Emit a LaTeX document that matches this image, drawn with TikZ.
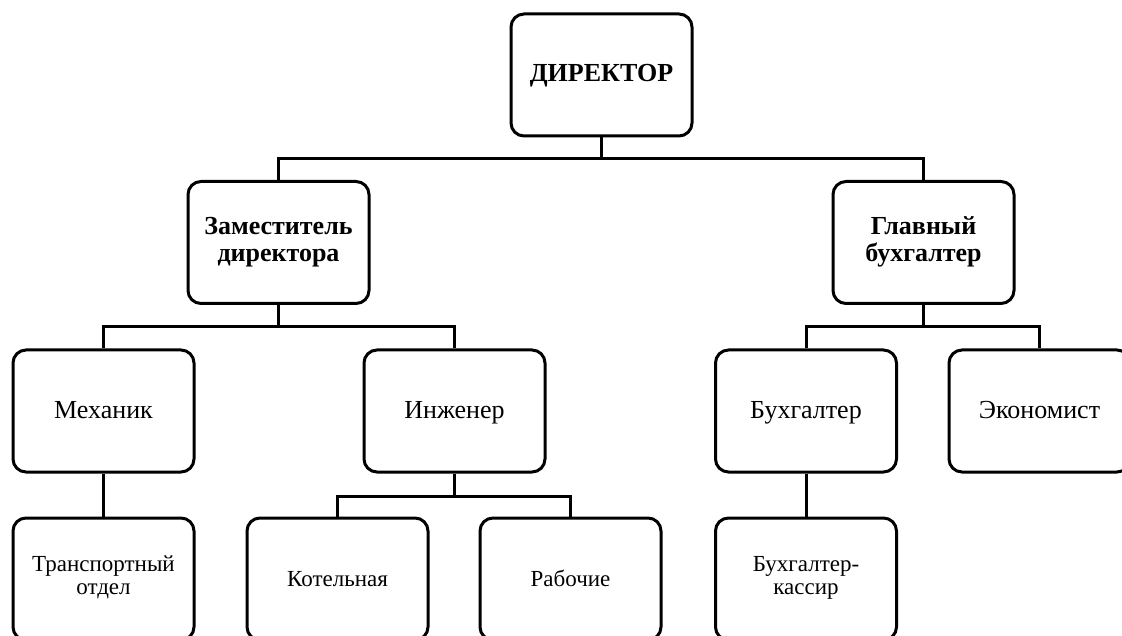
\documentclass[tikz,border=0pt]{standalone}
\usepackage{fontspec}
\setmainfont{Liberation Serif}
\newcommand\lnstrut{\rule[-7pt]{0pt}{28pt}}
\newcommand\tightls{\lineskiplimit=-50pt\relax}
\begin{document}
\begin{tikzpicture}[x=1pt,y=-1pt,
  box/.style={draw=black, line width=3pt, rounded corners=13pt, fill=white,
    minimum width=181pt, minimum height=122pt, align=center, inner sep=0pt,
    execute at begin node=\lnstrut,
    font=\fontsize{26}{25}\selectfont\tightls},
  bbox/.style={box, font=\fontsize{26}{27}\selectfont\tightls\bfseries},
  sbox/.style={box, font=\fontsize{23}{23}\selectfont\tightls},
  conn/.style={draw=black, line width=3pt}]
\useasboundingbox (0,0) rectangle (1122,636);
\clip (0,0) rectangle (1122,636);
\fill[white] (0,0) rectangle (1122,636);
% levels
\node[bbox] (dir) at (601.5,75) {ДИРЕКТОР};
\node[bbox] (zam) at (278.5,242.5) {Заместитель\\\lnstrut директора};
\node[bbox] (glav) at (923.5,242.5) {Главный\\\lnstrut бухгалтер};
\node[box] (mech) at (103.5,411) {Механик};
\node[box] (eng) at (454.5,411) {Инженер};
\node[box] (buh) at (806,411) {Бухгалтер};
\node[box] (econ) at (1039.5,411) {Экономист};
\node[sbox] (trans) at (103.5,579) {Транспортный\\\lnstrut отдел};
\node[sbox] (kot) at (337.5,579) {Котельная};
\node[sbox] (rab) at (570.5,579) {Рабочие};
\node[sbox] (kas) at (806,579) {Бухгалтер-\\\lnstrut кассир};
% bus coordinates
\coordinate (b1) at (0,159);
\coordinate (b2) at (0,327);
\coordinate (b3) at (0,496);
% connectors
\draw[conn] (dir.south) -- (dir.south |- b1);
\draw[conn] (zam.north) -- (zam.north |- b1) -- (glav.north |- b1) -- (glav.north);
\draw[conn] (zam.south) -- (zam.south |- b2);
\draw[conn] (mech.north) -- (mech.north |- b2) -- (eng.north |- b2) -- (eng.north);
\draw[conn] (glav.south) -- (glav.south |- b2);
\draw[conn] (buh.north) -- (buh.north |- b2) -- (econ.north |- b2) -- (econ.north);
\draw[conn] (mech.south) -- (trans.north);
\draw[conn] (eng.south) -- (eng.south |- b3);
\draw[conn] (kot.north) -- (kot.north |- b3) -- (rab.north |- b3) -- (rab.north);
\draw[conn] (buh.south) -- (kas.north);
\end{tikzpicture}
\end{document}
